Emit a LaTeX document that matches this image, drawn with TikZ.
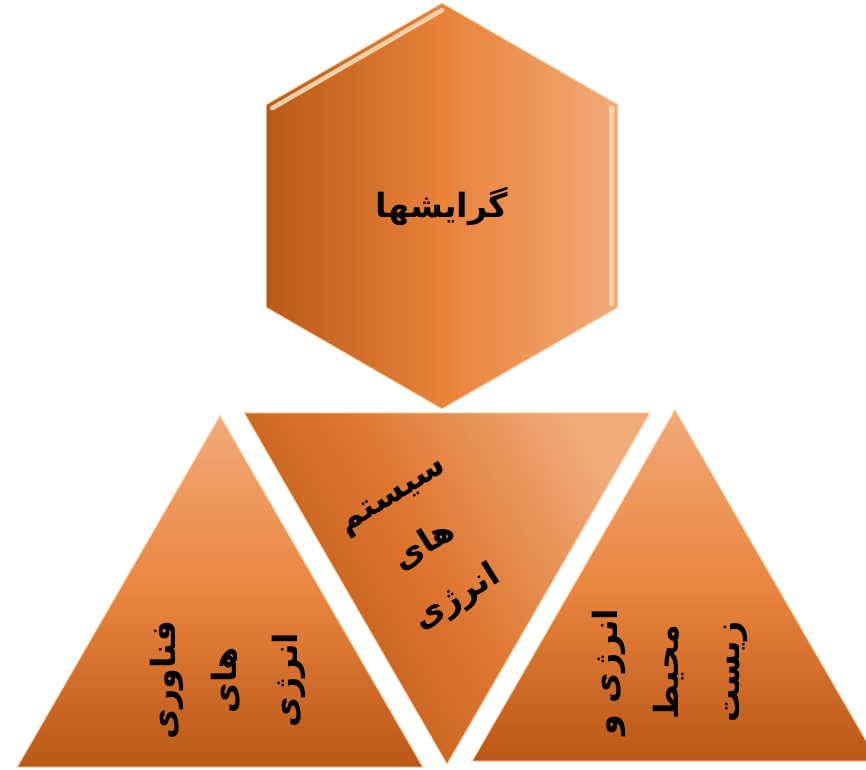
\documentclass[tikz,border=0pt]{standalone}
\usepackage{fontspec}
\newfontfamily\farsifont[Script=Arabic]{DejaVu Sans}
\TeXXeTstate=1
\usetikzlibrary{shapes.geometric,calc}
\definecolor{hexdark}{RGB}{184,90,24}
\definecolor{hexmid}{RGB}{233,130,58}
\definecolor{hexlight}{RGB}{242,170,120}
\definecolor{tridark}{RGB}{185,87,22}
\definecolor{trimid}{RGB}{235,133,64}
\definecolor{trilight}{RGB}{241,170,121}
\definecolor{invmid}{RGB}{222,118,48}
\definecolor{rimlight}{RGB}{252,218,178}
\tikzset{
  piece/.style={regular polygon,inner sep=0pt,outer sep=0pt,draw=rimlight,line width=0.8pt},
  % top hexagon
  hexpiece/.style={piece,regular polygon sides=6,shape border rotate=30,minimum size=304.5pt,
    left color=hexdark,right color=hexlight,middle color=hexmid},
  % triangles
  tripiece/.style={piece,regular polygon sides=3,minimum size=351.6pt,
    top color=trilight,bottom color=tridark,middle color=trimid},
  invpiece/.style={piece,regular polygon sides=3,shape border rotate=180,minimum size=351.6pt,
    top color=trilight,bottom color=tridark,middle color=invmid,shading angle=-60},
  bevel/.style={line width=3.5pt,draw=rimlight,line cap=round,opacity=0.9},
  lbl/.style={font=\farsifont\bfseries\fontsize{25}{46}\selectfont,align=center,text=black},
}
\begin{document}
\begin{tikzpicture}[x=0.75pt,y=-0.75pt]
\clip (0,0) rectangle (866,769);

%% ---- hexagon ----
\node[hexpiece] (hex) at (442,206) {};
\draw[bevel] ($(hex.150)!0.035!(hex.center)$) -- ($(hex.90)!0.035!(hex.center)$);
\draw[bevel] ($(hex.30)!0.035!(hex.center)$) -- ($(hex.330)!0.035!(hex.center)$);
\node[lbl] (hextxt) at (hex.center) {\beginR گرایشها\endR};

%% ---- triangles ----
\node[tripiece] (tleft)  at (220,650) {};
\node[invpiece] (tmid)   at (447,530) {};
\node[tripiece] (tright) at (675,644) {};

%% ---- labels ----
\node[lbl,rotate=90] (lefttxt) at ($(tleft.center)+(8,30)$)
  {\beginR فناوری\endR\\\beginR های\endR\\\beginR انرژی\endR};
\node[lbl,rotate=32] (midtxt) at ($(tmid.center)+(-20,20)$)
  {\beginR سیستم\endR\\\beginR های\endR\\\beginR انرژی\endR};
\node[lbl,rotate=90] (righttxt) at ($(tright.center)+(-5,28)$)
  {\beginR انرژی و\endR\\\beginR محیط\endR\\\beginR زیست\endR};
\end{tikzpicture}
\end{document}
